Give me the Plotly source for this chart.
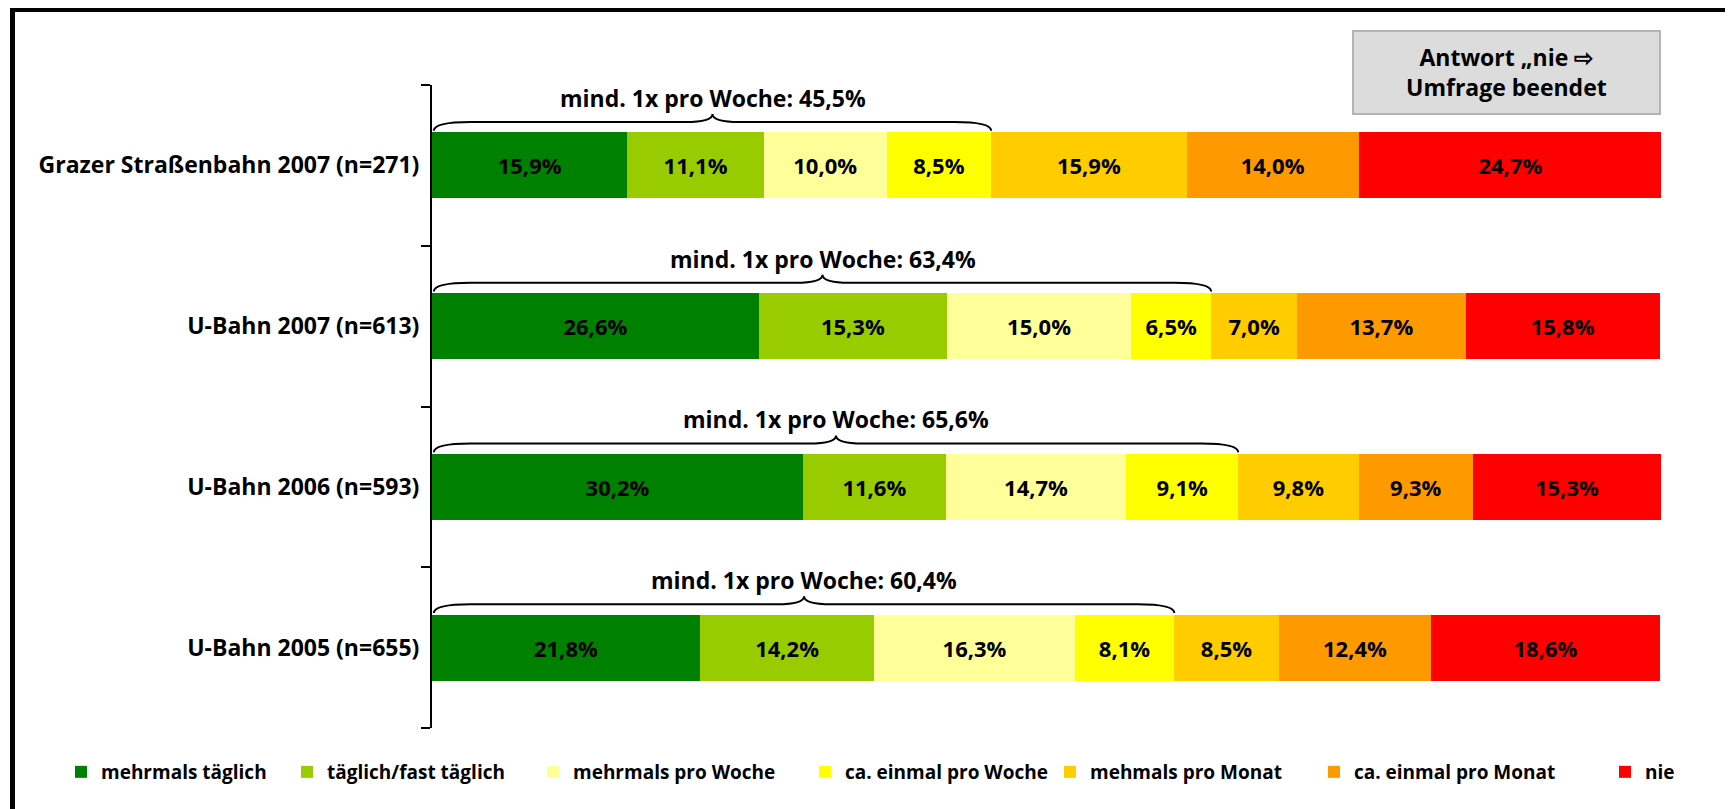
import plotly.graph_objects as go

categories = ["Grazer Straßenbahn 2007 (n=271)", "U-Bahn 2007 (n=613)",
              "U-Bahn 2006 (n=593)", "U-Bahn 2005 (n=655)"]
series_names = ["mehrmals täglich", "täglich/fast täglich", "mehrmals pro Woche",
                "ca. einmal pro Woche", "mehmals pro Monat", "ca. einmal pro Monat", "nie"]
series_colors = ["#008000", "#99CC00", "#FFFF99", "#FFFF00", "#FFCC00", "#FF9900", "#FF0000"]
values = {
    "mehrmals täglich":     [15.9, 26.6, 30.2, 21.8],
    "täglich/fast täglich": [11.1, 15.3, 11.6, 14.2],
    "mehrmals pro Woche":   [10.0, 15.0, 14.7, 16.3],
    "ca. einmal pro Woche": [8.5, 6.5, 9.1, 8.1],
    "mehmals pro Monat":    [15.9, 7.0, 9.8, 8.5],
    "ca. einmal pro Monat": [14.0, 13.7, 9.3, 12.4],
    "nie":                  [24.7, 15.8, 15.3, 18.6],
}
weekly_series = series_names[:4]
box_text = "Antwort „nie ⇨<br>Umfrage beendet"

FONT = "Open Sans"
W, H = 1733, 809
L, R, T, B = 424, 1653, 77, 720  # plot area in pixels (figure coords)
legend_left_px = [53, 279, 525, 797, 1042, 1306, 1597]

def fmt(v):
    return f"{v:.1f}".replace(".", ",") + "%"

def px2x(px):
    return (px - L) / (R - L)

def py2y(py):
    return (B - py) / (B - T)

ypos = list(range(len(categories)))
fig = go.Figure()
legends = {}
for k, (name, col) in enumerate(zip(series_names, series_colors)):
    vals = values[name]
    lname = "legend" if k == 0 else f"legend{k+1}"
    fig.add_trace(go.Bar(
        name=name, y=ypos, x=vals, orientation="h", legend=lname,
        marker=dict(color=col, line=dict(width=0)),
        text=[fmt(v) for v in vals], textposition="inside",
        insidetextanchor="middle", constraintext="none",
        textfont=dict(family=FONT, size=22, color="black", weight="bold"),
        hoverinfo="skip",
    ))
    legends[lname] = dict(orientation="h", x=px2x(legend_left_px[k]), y=py2y(764),
                          xanchor="left", yanchor="middle",
                          font=dict(family=FONT, size=19, color="black", weight="bold"),
                          itemwidth=30, bgcolor="rgba(0,0,0,0)")

shapes = []
annotations = []
half = 0.205
for i, cat in enumerate(categories):
    total = sum(values[s][i] for s in weekly_series)
    x0, x1 = 0.15, total
    xc = (x0 + x1) / 2
    ye = i - half - 0.01
    yl = i - half - 0.065
    yt = i - half - 0.115
    d1, d2 = 3.0, 2.2
    path = (f"M {x0},{ye} Q {x0},{yl} {x0+d1},{yl} L {xc-d2},{yl} "
            f"Q {xc},{yl} {xc},{yt} Q {xc},{yl} {xc+d2},{yl} "
            f"L {x1-d1},{yl} Q {x1},{yl} {x1},{ye}")
    shapes.append(dict(type="path", path=path, xref="x", yref="y",
                       line=dict(color="black", width=2)))
    annotations.append(dict(x=xc, y=i - half - 0.215, xref="x", yref="y",
                            text=f"mind. 1x pro Woche: {fmt(total)}", showarrow=False,
                            font=dict(family=FONT, size=23, color="black", weight="bold"),
                            xanchor="center", yanchor="middle"))

# frame (thick black top and left border)
shapes.append(dict(type="rect", xref="paper", yref="paper",
                   x0=px2x(2), x1=px2x(W + 5), y0=py2y(4), y1=py2y(-2),
                   fillcolor="black", line=dict(width=0), layer="above"))
shapes.append(dict(type="rect", xref="paper", yref="paper",
                   x0=px2x(2), x1=px2x(7), y0=py2y(H + 5), y1=py2y(-2),
                   fillcolor="black", line=dict(width=0), layer="above"))
# info box
shapes.append(dict(type="rect", xref="paper", yref="paper",
                   x0=px2x(1345), x1=px2x(1652), y0=py2y(106), y1=py2y(23),
                   fillcolor="#DCDCDC", line=dict(color="#B4B4B4", width=2)))
annotations.append(dict(x=px2x(1498), y=py2y(64), xref="paper", yref="paper",
                        text=box_text, showarrow=False, align="center",
                        font=dict(family=FONT, size=23, color="black", weight="bold"),
                        xanchor="center", yanchor="middle"))

fig.update_layout(
    width=W, height=H, barmode="stack", bargap=0.59,
    paper_bgcolor="white", plot_bgcolor="white",
    margin=dict(l=L, r=W - R, t=T, b=H - B),
    font=dict(family=FONT, color="black"),
    xaxis=dict(range=[0, 100], visible=False, fixedrange=True),
    yaxis=dict(range=[len(categories) - 0.5, -0.5], tickmode="array",
               tickvals=ypos, ticktext=categories, ticks="", showgrid=False,
               zeroline=False, showline=True, linecolor="black", linewidth=2,
               tickfont=dict(family=FONT, size=23, color="black", weight="bold"),
               ticklabelstandoff=6,
               minor=dict(tickmode="array", tickvals=[k - 0.5 for k in range(len(categories) + 1)],
                          ticks="outside", ticklen=9, tickwidth=2, tickcolor="black",
                          showgrid=False)),
    shapes=shapes, annotations=annotations, showlegend=True,
    **legends,
)

fig.write_html("out.html")
